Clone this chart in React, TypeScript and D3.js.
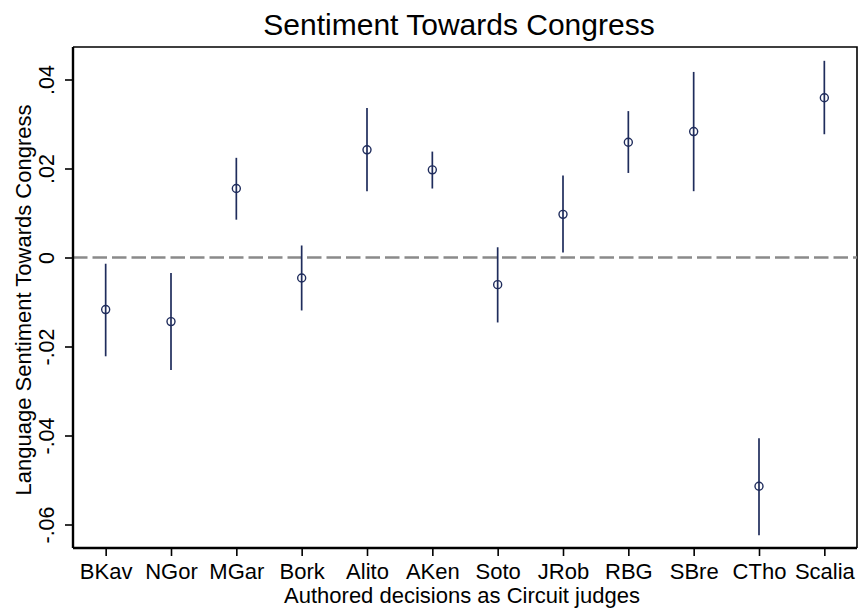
import * as d3 from "d3";
import React, { useEffect, useRef } from "react";

// judges (authored decisions as Circuit judges)
const judges = ["BKav", "NGor", "MGar", "Bork", "Alito", "AKen", "Soto", "JRob", "RBG", "SBre", "CTho", "Scalia"];

// point estimates and 95% CI bounds
const estimates = [-0.0117, -0.0144, 0.0155, -0.0046, 0.0242, 0.0197, -0.0061, 0.0097, 0.0259, 0.0283, -0.0514, 0.0359];
const lower = [-0.0222, -0.0253, 0.0085, -0.0119, 0.0149, 0.0155, -0.0146, 0.0011, 0.019, 0.0149, -0.0624, 0.0277];
const upper = [-0.0014, -0.0035, 0.0224, 0.0027, 0.0336, 0.0238, 0.0023, 0.0184, 0.0329, 0.0417, -0.0406, 0.0442];

const yTicks = [0.04, 0.02, 0, -0.02, -0.04, -0.06];
const yTickLabels = [".04", ".02", "0", "-.02", "-.04", "-.06"];

const W = 858;
const H = 612;
const navy = "#1f2c5c";
const font = "'Liberation Sans', Arial, Helvetica, sans-serif";

const App = () => {
  const ref = useRef(null);

  useEffect(() => {
    const plot = { left: 73, right: 857, top: 47, bottom: 548 };

    const svg = d3.select(ref.current);
    svg.selectAll("*").remove();

    const x = d3
      .scalePoint()
      .domain(judges)
      .range([plot.left, plot.right])
      .padding(0.5);

    // tick positions: .04 -> 79.5, -.06 -> 524.5
    const y = d3.scaleLinear().domain([-0.06, 0.04]).range([524.5, 79.5]);

    svg.append("rect").attr("width", W).attr("height", H).attr("fill", "white");

    // frame (thin top / right)
    svg
      .append("path")
      .attr("d", `M${plot.left},${plot.top}H${plot.right}V${plot.bottom}`)
      .attr("fill", "none")
      .attr("stroke", "#000")
      .attr("stroke-width", 1.6);

    // zero reference line
    svg
      .append("line")
      .attr("x1", plot.left)
      .attr("x2", plot.right)
      .attr("y1", y(0))
      .attr("y2", y(0))
      .attr("stroke", "#8a8a8a")
      .attr("stroke-width", 2.7)
      .attr("stroke-dasharray", "14.5 5");

    // y axis
    const yAxis = svg
      .append("g")
      .attr("transform", `translate(${plot.left},0)`)
      .call(
        d3
          .axisLeft(y)
          .tickValues(yTicks)
          .tickSize(8)
          .tickSizeOuter(0)
          .tickFormat((d, i) => yTickLabels[i])
      );
    yAxis.select(".domain").attr("d", `M0,${plot.top}V${plot.bottom}`).attr("stroke", "#000").attr("stroke-width", 2.4);
    yAxis.selectAll(".tick line").attr("stroke", "#000").attr("stroke-width", 1.6);
    yAxis
      .selectAll(".tick text")
      .attr("x", null)
      .attr("dy", null)
      .attr("transform", "translate(-19,0) rotate(-90)")
      .attr("text-anchor", "middle")
      .attr("fill", "#000")
      .attr("font-family", font)
      .attr("font-size", 21.5);

    // x axis
    const xAxis = svg
      .append("g")
      .attr("transform", `translate(0,${plot.bottom})`)
      .call(d3.axisBottom(x).tickSize(8).tickSizeOuter(0).tickPadding(10));
    xAxis.select(".domain").attr("d", `M${plot.left},0H${plot.right}`).attr("stroke", "#000").attr("stroke-width", 2.4);
    xAxis.selectAll(".tick line").attr("stroke", "#000").attr("stroke-width", 1.6);
    xAxis
      .selectAll(".tick text")
      .attr("y", 31)
      .attr("dy", null)
      .attr("fill", "#000")
      .attr("font-family", font)
      .attr("font-size", 22);

    // confidence intervals
    svg
      .selectAll(".ci")
      .data(judges)
      .enter()
      .append("line")
      .attr("class", "ci")
      .attr("x1", (d) => x(d))
      .attr("x2", (d) => x(d))
      .attr("y1", (d, i) => y(lower[i]))
      .attr("y2", (d, i) => y(upper[i]))
      .attr("stroke", navy)
      .attr("stroke-width", 1.7);

    // point estimates (hollow circles, CI line shows through)
    svg
      .selectAll(".pt")
      .data(judges)
      .enter()
      .append("circle")
      .attr("class", "pt")
      .attr("cx", (d) => x(d))
      .attr("cy", (d, i) => y(estimates[i]))
      .attr("r", 4)
      .attr("fill", "none")
      .attr("stroke", navy)
      .attr("stroke-width", 1.4);

    // title
    svg
      .append("text")
      .attr("x", 459)
      .attr("y", 35)
      .attr("text-anchor", "middle")
      .attr("font-family", font)
      .attr("font-size", 30)
      .attr("fill", "#000")
      .text("Sentiment Towards Congress");

    // axis titles
    svg
      .append("text")
      .attr("x", 462)
      .attr("y", 603)
      .attr("text-anchor", "middle")
      .attr("font-family", font)
      .attr("font-size", 22)
      .attr("fill", "#000")
      .text("Authored decisions as Circuit judges");

    svg
      .append("text")
      .attr("transform", "translate(31,300) rotate(-90)")
      .attr("text-anchor", "middle")
      .attr("font-family", font)
      .attr("font-size", 22)
      .attr("fill", "#000")
      .text("Language Sentiment Towards Congress");
  }, []);

  return (
    <svg
      ref={ref}
      width={W}
      height={H}
      style={{ position: "absolute", left: 0, top: 0, display: "block" }}
    />
  );
};

export default App;
